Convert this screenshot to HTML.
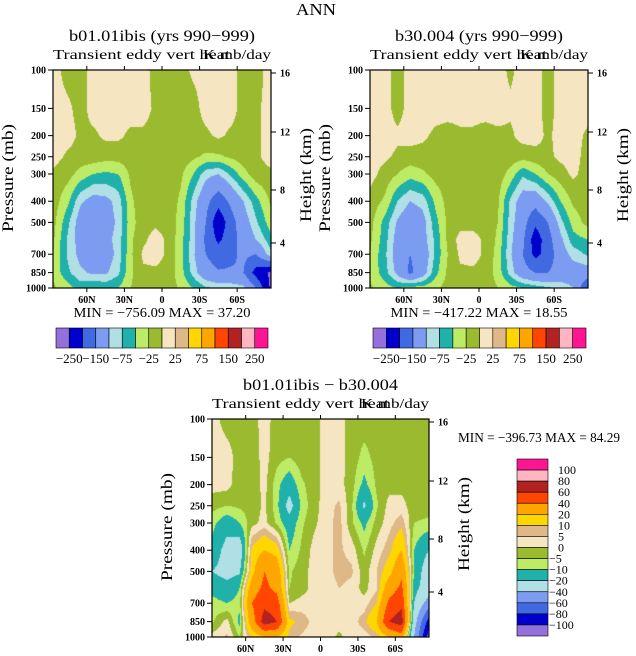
<!DOCTYPE html>
<html><head><meta charset="utf-8"><style>
body{margin:0;background:#fff;width:636px;height:656px;position:relative;overflow:hidden;font-family:"Liberation Serif",serif}
canvas{position:absolute}
svg{position:absolute;left:0;top:0}
</style></head><body>
<canvas id="c1" width="218" height="218" style="left:53px;top:70px"></canvas>
<canvas id="c2" width="218" height="218" style="left:370px;top:70px"></canvas>
<canvas id="c3" width="217" height="218" style="left:212px;top:419px"></canvas>
<svg id="ov" width="636" height="656"></svg>
<script>
// ---- data ----
const lats=[87,75,65,55,45,35,25,15,5,-5,-15,-25,-35,-45,-55,-65,-75,-87];
const levs=[100,150,200,250,300,400,500,600,700,850,1000];
const pLabels=[100,150,200,250,300,400,500,700,850,1000];
const latTicks=[60,30,0,-30,-60];
const latTickLabels=['60N','30N','0','30S','60S'];
const hTickLabels=['16','12','8','4'];
const levelsA=[-250,-200,-150,-100,-75,-50,-25,0,25,50,75,100,150,200,250];
const barLabelsA=['−250','−150','−75','−25','25','75','150','250'];
const levelsD=[-100,-80,-60,-40,-20,-10,-5,0,5,10,20,40,60,80,100];
const barLabelsD=['100','80','60','40','20','10','5','0','−5','−10','−20','−40','−60','−80','−100'];
const colors=['#9370DB','#0000CD','#4169E1','#7B9CF0','#B0DFE5','#20B2AA','#BDEB65','#9ABB30','#F5E6C1','#DEB887','#FFD700','#FFA500','#FF4500','#B22222','#FFB6C1','#FF1493'];
const gridA=[
[10,-10,-10,10,10,10,10,10,-10,-10,-10,5,10,10,10,-10,-10,10],
[10,5,-10,10,10,10,10,10,-5,-10,-10,-10,10,10,10,-10,-5,10],
[10,10,-5,-5,5,5,-5,-5,-10,-10,-10,-10,-5,5,-5,-10,-5,10],
[10,-5,-10,-10,-15,-15,-10,-10,-10,-10,-10,-20,-30,-30,-20,-10,-5,10],
[-5,-15,-35,-50,-55,-50,-20,-10,-10,-10,-20,-50,-90,-100,-70,-35,-10,-5],
[-10,-45,-95,-115,-110,-90,-30,-10,-5,-10,-30,-85,-135,-180,-140,-100,-60,-20],
[-15,-70,-120,-125,-115,-95,-35,-10,-5,-10,-35,-90,-150,-240,-170,-120,-80,-35],
[-20,-80,-115,-110,-110,-90,-30,-5,10,-5,-40,-90,-160,-210,-170,-130,-100,-60],
[-25,-80,-110,-115,-120,-90,-30,5,10,-5,-40,-95,-150,-175,-160,-140,-150,-80],
[-30,-70,-95,-105,-105,-80,-30,-5,-5,-10,-40,-85,-130,-145,-145,-150,-220,-260],
[-20,-40,-60,-50,-55,-50,-25,-10,-10,-10,-30,-50,-70,-80,-80,-90,-150,-260]];
const gridB=[
[10,10,-10,10,10,10,10,10,10,10,10,-5,10,10,-10,10,10,10],
[10,10,-10,10,10,10,10,10,10,10,10,5,10,10,-10,10,10,10],
[10,10,5,10,5,-5,-10,-5,-5,-10,-5,-5,10,10,-5,10,10,-5],
[10,5,-5,-10,-10,-10,-10,-10,-10,-10,-10,-10,-15,-10,-5,5,10,-10],
[10,-10,-25,-40,-30,-15,-10,-10,-10,-5,-10,-35,-70,-50,-25,-10,5,-10],
[-10,-30,-75,-100,-90,-45,-15,-10,-5,-10,-20,-80,-120,-130,-95,-50,-20,-10],
[-15,-60,-105,-130,-115,-60,-20,-10,-10,-10,-25,-85,-130,-190,-150,-85,-40,-15],
[-20,-65,-115,-120,-115,-70,-20,10,10,-5,-30,-90,-140,-230,-170,-110,-60,-50],
[-25,-70,-120,-150,-130,-70,-25,5,10,-5,-35,-95,-150,-215,-180,-120,-90,-70],
[-30,-65,-110,-160,-120,-60,-20,-5,-5,-10,-35,-85,-130,-150,-150,-130,-120,-120],
[-20,-40,-50,-40,-40,-30,-15,-10,-10,-10,-25,-40,-50,-60,-70,-80,-100,-200]];
const gridD=[
[2,-2,-2,-2,2,-2,-2,-2,-2,2,2,-2,-2,-2,-2,-2,-2,-2],
[2,2,-2,-3,2,-3,-5,-2,-2,2,2,-2,-7,-3,-2,-2,-2,-2],
[2,2,-3,-4,2,-8,-15,-6,-2,2,2,-3,-12,-4,-2,-2,-2,-2],
[-3,-5,-4,-3,1,-8,-25,-8,-2,3,6,-4,-22,-6,2,2,-3,-3],
[-8,-15,-10,-2,2,-6,-15,-6,-1,3,7,-4,-12,-3,3,8,-5,-6],
[-12,-25,-30,12,20,15,-10,-4,2,4,6,3,-6,2,8,20,-10,-20],
[-20,-25,-22,15,40,30,-6,-2,2,3,7,6,-3,5,15,35,-10,-30],
[-12,-15,-10,30,45,35,-5,-2,2,2,5,3,-2,4,30,45,-15,-30],
[-8,-10,-8,40,55,50,0,2,2,2,2,3,2,10,45,55,-20,-50],
[-6,2,-12,30,70,60,12,8,3,2,2,2,8,20,60,70,-30,-90],
[2,6,-5,10,20,20,8,4,2,2,-1,2,2,6,20,30,-40,-110]];

// ---- rendering ----
const LATMAX=87;
function hex(c){return [parseInt(c.substr(1,2),16),parseInt(c.substr(3,2),16),parseInt(c.substr(5,2),16)];}
const rgb=colors.map(hex);
function colorIdx(v,levels){let k=0;while(k<levels.length&&v>=levels[k])k++;return k;}
function sample(grid,lat,lp){
  const lps=levs.map(p=>Math.log10(p));
  let i=0;while(i<lats.length-2&&lat<lats[i+1])i++;
  let j=0;while(j<lps.length-2&&lp>lps[j+1])j++;
  let tx=(lats[i]-lat)/(lats[i]-lats[i+1]);tx=Math.max(0,Math.min(1,tx));
  let ty=(lp-lps[j])/(lps[j+1]-lps[j]);ty=Math.max(0,Math.min(1,ty));
  const a=grid[j][i],b=grid[j][i+1],c=grid[j+1][i],d=grid[j+1][i+1];
  return (a*(1-tx)+b*tx)*(1-ty)+(c*(1-tx)+d*tx)*ty;
}
function draw(id,grid,levels){
  const cv=document.getElementById(id),ctx=cv.getContext('2d');
  const W=cv.width,H=cv.height,img=ctx.createImageData(W,H);
  for(let y=0;y<H;y++)for(let x=0;x<W;x++){
    const lat=LATMAX-(x+0.5)/W*2*LATMAX;
    const lp=2+(y+0.5)/H;
    const v=sample(grid,lat,lp);
    const c=rgb[colorIdx(v,levels)];
    const o=(y*W+x)*4;img.data[o]=c[0];img.data[o+1]=c[1];img.data[o+2]=c[2];img.data[o+3]=255;
  }
  ctx.putImageData(img,0,0);
}
draw('c1',gridA,levelsA);draw('c2',gridB,levelsA);draw('c3',gridD,levelsD);

const NS='http://www.w3.org/2000/svg',ov=document.getElementById('ov');
function el(tag,attrs,parent){const e=document.createElementNS(NS,tag);for(const k in attrs)e.setAttribute(k,attrs[k]);(parent||ov).appendChild(e);return e;}
function txt(s,x,y,size,anchor,parent,extra){const e=el('text',Object.assign({x:x,y:y,'font-size':size,'text-anchor':anchor||'middle','font-family':'Liberation Serif, serif',fill:'#000'},extra||{}),parent);e.textContent=s;return e;}

const hFrac=[3/218,62/218,120/218,173/218];
function panel(L,T,W,H,title,titleLen,name,minmax){
  const g=el('g',{});
  
  
  const xs=lat=>L+(LATMAX-lat)/(2*LATMAX)*W;
  const ys=p=>T+Math.log10(p/100)*H;
  el('rect',{x:L,y:T,width:W,height:H,fill:'none',stroke:'#000','stroke-width':1.2},g);
  const t=txt(title,L+W/2,T-29,16,'middle',g,{textLength:titleLen,lengthAdjust:'spacingAndGlyphs'});
  
  
  txt('Transient eddy vert heat',L,T-11,14,'start',g,{textLength:177,lengthAdjust:'spacingAndGlyphs'});
  txt('K mb/day',L+W,T-11,14,'end',g,{textLength:68,lengthAdjust:'spacingAndGlyphs'});
  pLabels.forEach(p=>{const y=ys(p);el('line',{x1:L-5,x2:L,y1:y,y2:y,stroke:'#000'},g);
    const l=txt(String(p),L-7,y+3.5,10,'end',g,{'font-weight':'bold'});
    
    });
  latTicks.forEach((lt,k)=>{const x=xs(lt);
    el('line',{x1:x,x2:x,y1:T+H,y2:T+H+4,stroke:'#000'},g);
    el('line',{x1:x,x2:x,y1:T,y2:T-4,stroke:'#000'},g);
    const l=txt(latTickLabels[k],x,T+H+15,10,'middle',g,{'font-weight':'bold'});
    
    });
  hTickLabels.forEach((s,k)=>{const y=T+hFrac[k]*H;el('line',{x1:L+W,x2:L+W+5,y1:y,y2:y,stroke:'#000'},g);
    txt(s,L+W+9,y+3.5,10,'start',g,{'font-weight':'bold'});});
  const ya=txt('Pressure (mb)',0,0,16,'middle',g,{transform:`translate(${L-40},${T+H/2-1}) rotate(-90)`,textLength:108,lengthAdjust:'spacingAndGlyphs'});
  
  
  const yb=txt('Height (km)',0,0,16,'middle',g,{transform:`translate(${L+W+40},${T+H/2-4}) rotate(-90)`,textLength:94,lengthAdjust:'spacingAndGlyphs'});
  
  
  if(minmax){const m=txt(minmax,L+W/2,T+H+29,14,'middle',g,{'xml:space':'preserve',textLength:177,lengthAdjust:'spacingAndGlyphs'});
    
    }
}
const at=txt('ANN',316,15,17,'middle',null,{textLength:40,lengthAdjust:'spacingAndGlyphs'});


panel(53,70,218,218,'b01.01ibis (yrs 990−999)',186,'panel-b01','MIN = −756.09   MAX =   37.20');
panel(370,70,218,218,'b30.004 (yrs 990−999)',168,'panel-b30','MIN = −417.22   MAX =   18.55');
panel(212,419,217,218,'b01.01ibis − b30.004',155,'panel-diff',null);
const mm=txt('MIN = −396.73   MAX =  84.29',458,442,14,'start',null,{'xml:space':'preserve',textLength:162,lengthAdjust:'spacingAndGlyphs'});



function hbar(L,T,W,H,name){
  const g=el('g',{});
  
  
  const bw=W/colors.length;
  colors.forEach((c,k)=>{const r=el('rect',{x:L+k*bw,y:T,width:bw,height:H,fill:c,stroke:'#000','stroke-width':0.6},g);
    
    });
  barLabelsA.forEach((s,k)=>{txt(s,L+(1+2*k)*bw,T+H+15,13,'middle',g);});
}
hbar(56,328,212,20,'colorbar-b01');
hbar(373,328,213,20,'colorbar-b30');
(function(){
  const L=517,T=459,W=31,H=177,g=el('g',{});
  
  
  const bh=H/colors.length;
  colors.slice().reverse().forEach((c,k)=>{const r=el('rect',{x:L,y:T+k*bh,width:W,height:bh,fill:c,stroke:'#000','stroke-width':0.6},g);
    
    });
  barLabelsD.forEach((s,k)=>{const neg=s[0]==='−';txt(s,L+W+(neg?1:10),T+(k+1)*bh+4,12,'start',g);});
})();
</script>
</body></html>
